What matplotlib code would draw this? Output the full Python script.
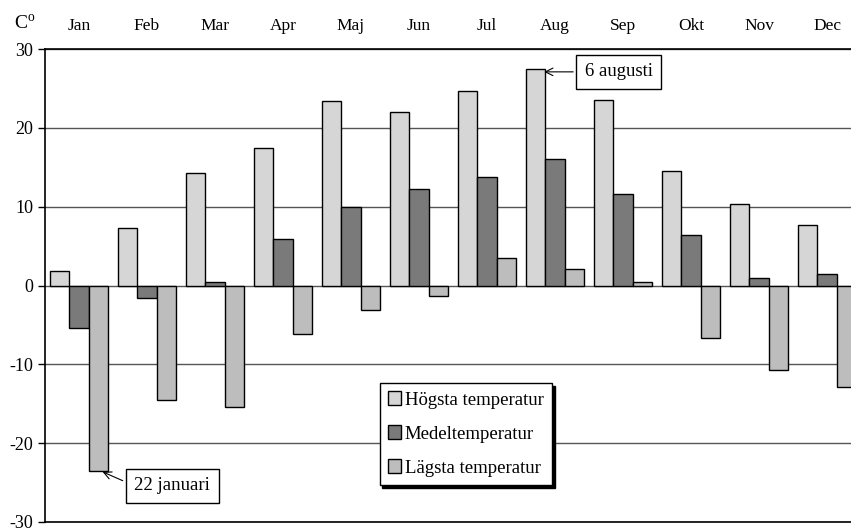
import numpy as np
import matplotlib
matplotlib.use("Agg")
import matplotlib.pyplot as plt

plt.rcParams["font.family"] = ["Liberation Serif", "DejaVu Serif"]
plt.rcParams["mathtext.fontset"] = "custom"
plt.rcParams["mathtext.rm"] = "Liberation Serif"
plt.rcParams["axes.unicode_minus"] = False

# Monthly temperatures (deg C)
months = ["Jan", "Feb", "Mar", "Apr", "Maj", "Jun", "Jul", "Aug", "Sep", "Okt", "Nov", "Dec"]
hogsta = [1.9, 7.3, 14.3, 17.4, 23.4, 22.0, 24.7, 27.5, 23.5, 14.5, 10.4, 7.7]
medel = [-5.4, -1.6, 0.4, 5.9, 10.0, 12.3, 13.8, 16.1, 11.6, 6.4, 0.9, 1.4]
lagsta = [-23.5, -14.5, -15.4, -6.2, -3.1, -1.3, 3.5, 2.1, 0.5, -6.6, -10.7, -12.9]

fig = plt.figure(figsize=(8.51, 5.31), dpi=100)
ax = fig.add_axes([45 / 851, 9 / 531, 816 / 851, 473 / 531])

x = np.arange(len(months))
w = 0.28
ax.bar(x - w, hogsta, w, color="#d6d6d6", edgecolor="black", linewidth=1, label="Högsta temperatur", zorder=3)
ax.bar(x, medel, w, color="#7a7a7a", edgecolor="black", linewidth=1, label="Medeltemperatur", zorder=3)
ax.bar(x + w, lagsta, w, color="#bdbdbd", edgecolor="black", linewidth=1, label="Lägsta temperatur", zorder=3)

ax.set_xlim(-0.5, 11.5)
ax.set_ylim(-30, 30)
ax.set_yticks(range(-30, 31, 10))
ax.yaxis.grid(True, color="#555555", linewidth=1)
ax.set_axisbelow(True)

ax.xaxis.tick_top()
ax.set_xticks(x)
ax.set_xticklabels(months, fontsize=12.5)
ax.tick_params(axis="x", length=0, pad=11)
ax.tick_params(axis="y", labelsize=13, length=5, direction="out", width=1)
for s in ["top", "bottom", "left"]:
    ax.spines[s].set_linewidth(1.2)
ax.spines["right"].set_visible(False)

fig.text(25 / 851, 1 - 24 / 531, r"C$^{\rm o}$", fontsize=14, ha="center", va="center")

leg = ax.legend(loc="upper left", bbox_to_anchor=(0.41, 0.294), fontsize=13.5,
                frameon=True, fancybox=False, shadow={"color": "black", "alpha": 1},
                handlelength=0.7, handleheight=0.7, handletextpad=0.2,
                labelspacing=0.9, borderpad=0.45, borderaxespad=0)
leg.get_frame().set_edgecolor("black")
leg.get_frame().set_linewidth(1)

box = dict(boxstyle="square,pad=0.45", fc="white", ec="black", lw=1)
ax.annotate("6 augusti", xy=(7 - w + 0.08, 27.1), xytext=(7.94, 27.1),
            fontsize=13.5, ha="center", va="center", bbox=box, zorder=5,
            arrowprops=dict(arrowstyle="->", color="black", lw=0.8, relpos=(0, 0.5)))
ax.annotate("22 januari", xy=(0.31, -23.5), xytext=(1.37, -25.4),
            fontsize=13.5, ha="center", va="center", bbox=box, zorder=5,
            arrowprops=dict(arrowstyle="->", color="black", lw=0.8, relpos=(0, 0.5)))

fig.savefig("out.png", dpi=100)
